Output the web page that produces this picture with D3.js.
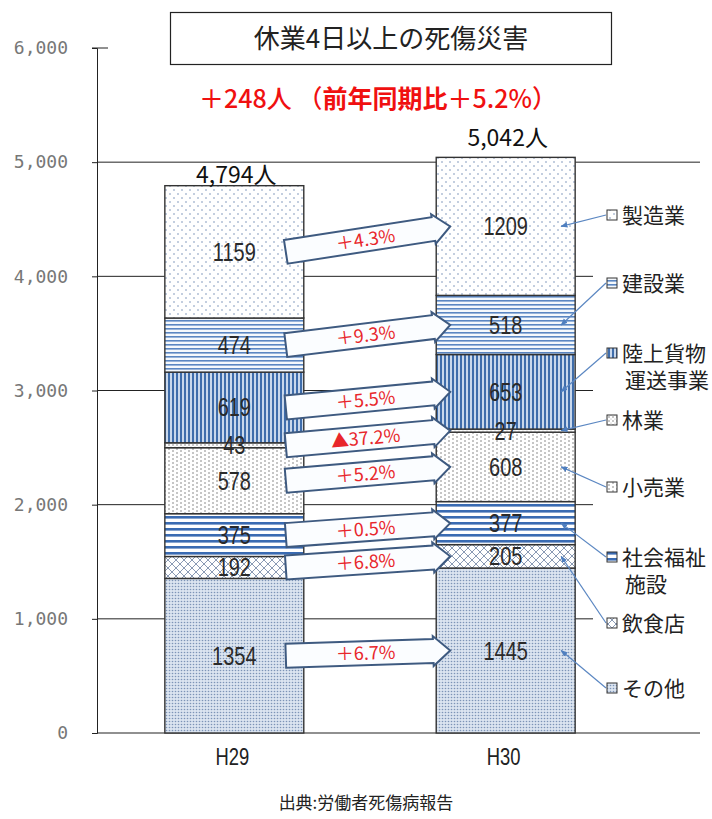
<!DOCTYPE html>
<html>
<head>
<meta charset="utf-8">
<script src="https://cdn.jsdelivr.net/npm/d3@7"></script>
<style>
  body { margin: 0; background: #fff; }
  svg { display: block; }
  .jp { font-family: "Noto Sans CJK JP", sans-serif; }
  .num { font-family: "Liberation Sans", Arial, sans-serif; }
</style>
</head>
<body>
<div id="chart"></div>
<script>
// data (bottom -> top)
const years = ["H29", "H30"];
const industries = ["その他", "飲食店", "社会福祉施設", "小売業", "林業", "陸上貨物運送事業", "建設業", "製造業"];
const valuesH29 = [1354, 192, 375, 578, 43, 619, 474, 1159];
const valuesH30 = [1445, 205, 377, 608, 27, 653, 518, 1209];
const yTicks = [0, 1000, 2000, 3000, 4000, 5000, 6000];

// legend text lines, top -> bottom
const legendOrder = ["製造業", "建設業", "陸上貨物運送事業", "林業", "小売業", "社会福祉施設", "飲食店", "その他"];
const legendLines = {
    "製造業": ["製造業"], "建設業": ["建設業"], "陸上貨物運送事業": ["陸上貨物", "運送事業"],
    "林業": ["林業"], "小売業": ["小売業"], "社会福祉施設": ["社会福祉", "施設"],
    "飲食店": ["飲食店"], "その他": ["その他"]
};
const legendY = [215, 283, 353, 420, 487, 557, 623, 688];

const W = 712, H = 819;
const svg = d3.select("#chart").append("svg").attr("width", W).attr("height", H);
const defs = svg.append("defs");

// fill patterns
function pattern(id, w, h, bg, draw) {
    const p = defs.append("pattern").attr("id", id)
        .attr("patternUnits", "userSpaceOnUse").attr("width", w).attr("height", h);
    p.append("rect").attr("width", w).attr("height", h).attr("fill", bg);
    draw(p);
}
pattern("p-seizo", 8, 8, "#ffffff", p => {
    p.append("circle").attr("cx", 2).attr("cy", 2).attr("r", 0.8).attr("fill", "#7890b8");
    p.append("circle").attr("cx", 6).attr("cy", 6).attr("r", 0.8).attr("fill", "#7890b8");
});
pattern("p-kensetsu", 4, 4, "#f4f8fc", p => {
    p.append("rect").attr("width", 4).attr("height", 1.6).attr("fill", "#5a86c2");
});
pattern("p-rikujo", 4, 4, "#c9d8ec", p => {
    p.append("rect").attr("width", 2).attr("height", 4).attr("fill", "#3f6dab");
});
pattern("p-ringyo", 4, 4, "#ffffff", p => {
    p.append("circle").attr("cx", 1).attr("cy", 1).attr("r", 0.7).attr("fill", "#666");
    p.append("circle").attr("cx", 3).attr("cy", 3).attr("r", 0.5).attr("fill", "#999");
});
pattern("p-kouri", 8, 4, "#ffffff", p => {
    p.append("circle").attr("cx", 1).attr("cy", 1).attr("r", 0.75).attr("fill", "#707070");
    p.append("circle").attr("cx", 5).attr("cy", 3).attr("r", 0.75).attr("fill", "#707070");
});
pattern("p-fukushi", 6, 6, "#ffffff", p => {
    p.append("rect").attr("width", 6).attr("height", 2.6).attr("fill", "#3a6bb2");
});
pattern("p-inshoku", 8, 8, "#ffffff", p => {
    p.append("path").attr("d", "M0,0 L8,8 M8,0 L0,8").attr("stroke", "#8a9ab4").attr("stroke-width", 1);
});
pattern("p-sonota", 3, 3, "#dbe4f0", p => {
    p.append("circle").attr("cx", 1.5).attr("cy", 1.5).attr("r", 0.8).attr("fill", "#7d94b7");
});
const fills = {
    "製造業": "url(#p-seizo)", "建設業": "url(#p-kensetsu)", "陸上貨物運送事業": "url(#p-rikujo)",
    "林業": "url(#p-ringyo)", "小売業": "url(#p-kouri)", "社会福祉施設": "url(#p-fukushi)",
    "飲食店": "url(#p-inshoku)", "その他": "url(#p-sonota)"
};

defs.append("marker").attr("id", "lead")
    .attr("viewBox", "0 0 10 10").attr("refX", 9).attr("refY", 5)
    .attr("markerWidth", 7).attr("markerHeight", 7).attr("markerUnits", "userSpaceOnUse")
    .attr("orient", "auto")
    .append("path").attr("d", "M0,1 L10,5 L0,9 z").attr("fill", "#4f7fbf");

// scales
const y = d3.scaleLinear().domain([0, 6000]).range([733, 48]);
const x = d3.scaleBand().domain(years).range([97, 643]).paddingInner(0.488).paddingOuter(0.25);
const bw = x.bandwidth();

// narrow text (squeezed horizontally)
function narrowText(sel, cx, cy, size, txt, fill) {
    return sel.append("text").attr("class", "num")
        .attr("transform", `translate(${cx},${cy}) scale(0.8,1)`)
        .attr("dy", "0.36em").attr("text-anchor", "middle")
        .attr("font-size", size).attr("fill", fill)
        .text(txt);
}

// stacked data
const table = industries.map((k, i) => ({ key: k, H29: valuesH29[i], H30: valuesH30[i] }));
const rows = years.map(yr => {
    const r = { year: yr };
    industries.forEach((k, i) => r[k] = yr === "H29" ? valuesH29[i] : valuesH30[i]);
    return r;
});
const series = d3.stack().keys(industries)(rows);

// gridlines
const grid = svg.append("g");
grid.selectAll("line").data(yTicks.slice(1, -1)).join("line")
    .attr("x1", 97).attr("x2", 700)
    .attr("y1", d => y(d)).attr("y2", d => y(d))
    .attr("stroke", "#222").attr("stroke-width", 1);
grid.append("line").attr("x1", 92).attr("x2", 108).attr("y1", y(6000)).attr("y2", y(6000))
    .attr("stroke", "#222");
grid.append("line").attr("x1", 97).attr("x2", 700).attr("y1", y(0)).attr("y2", y(0))
    .attr("stroke", "#222").attr("stroke-width", 1.2);

// y axis
const yAxis = svg.append("g").attr("transform", "translate(97,0)")
    .call(d3.axisLeft(y).tickValues(yTicks).tickFormat(d3.format(",")).tickSize(5).tickPadding(24));
yAxis.select(".domain").attr("stroke", "#222");
yAxis.selectAll(".tick line").attr("stroke", "#222");
yAxis.selectAll(".tick text").attr("font-family", "DejaVu Sans Mono, monospace")
    .attr("font-size", 18).attr("fill", "#777");

// bars
const barG = svg.append("g");
series.forEach(s => {
    barG.selectAll(null).data(s).join("rect")
        .attr("x", d => x(d.data.year))
        .attr("y", d => y(d[1]))
        .attr("width", bw)
        .attr("height", d => y(d[0]) - y(d[1]))
        .attr("fill", fills[s.key])
        .attr("stroke", "#333").attr("stroke-width", 1.4);
});

// segment labels
series.forEach(s => {
    s.forEach(d => {
        narrowText(barG, x(d.data.year) + bw / 2, y((d[0] + d[1]) / 2), 25, d[1] - d[0], "#2a2a2a");
    });
});

// change arrows
const pctFmt = d3.format(".1f");
const arrowG = svg.append("g");
table.forEach((d, i) => {
    const s = series[i];
    const x1 = x("H29") + bw - 18, y1 = y((s[0][0] + s[0][1]) / 2);
    const x2 = x("H30") + 14, y2 = y((s[1][0] + s[1][1]) / 2);
    const len = Math.hypot(x2 - x1, y2 - y1);
    const ang = Math.atan2(y2 - y1, x2 - x1) * 180 / Math.PI;
    const hb = 12, hh = 15, hl = 17;
    const g = arrowG.append("g").attr("transform", `translate(${x1},${y1}) rotate(${ang})`);
    g.append("path")
        .attr("d", `M0,${-hb} L${len - hl},${-hb} L${len - hl},${-hh} L${len},0 L${len - hl},${hh} L${len - hl},${hb} L0,${hb} Z`)
        .attr("fill", "#fbfdff").attr("stroke", "#3e5a80").attr("stroke-width", 2)
        .attr("stroke-linejoin", "miter");
    const ch = (d.H30 - d.H29) / d.H29 * 100;
    const label = (ch < 0 ? "▲" : "＋") + pctFmt(Math.abs(ch)) + "%";
    g.append("text").attr("class", "jp")
        .attr("x", (len - hl) / 2 + 6).attr("y", 0).attr("dy", "0.36em")
        .attr("text-anchor", "middle").attr("font-size", 18).attr("fill", "#e8262b")
        .text(label);
});

// totals
const totals = [d3.sum(valuesH29), d3.sum(valuesH30)];
const totalDy = [-3, -11];
svg.append("g").selectAll("text").data(years).join("text")
    .attr("class", "jp")
    .attr("x", d => x(d) + bw / 2 + 2)
    .attr("y", (d, i) => y(totals[i]) + totalDy[i])
    .attr("text-anchor", "middle").attr("font-size", 23).attr("fill", "#111")
    .text((d, i) => d3.format(",")(totals[i]) + "人");

// category labels
years.forEach(d => narrowText(svg, x(d) + bw / 2 - 2, 757, 23, d, "#222"));

// legend
svg.append("rect").attr("x", 593).attr("y", 192).attr("width", 119).attr("height", 520).attr("fill", "#fff");
const legG = svg.append("g");
legendOrder.forEach((k, i) => {
    const ly = legendY[i];
    const s = series[industries.indexOf(k)];
    legG.append("line")
        .attr("x1", 606).attr("y1", ly)
        .attr("x2", x("H30") + bw - 14).attr("y2", y((s[1][0] + s[1][1]) / 2))
        .attr("stroke", "#5b87c2").attr("stroke-width", 1.2)
        .attr("marker-end", "url(#lead)");
    legG.append("rect").attr("x", 607).attr("y", ly - 5).attr("width", 10).attr("height", 10)
        .attr("fill", fills[k]).attr("stroke", "#333").attr("stroke-width", 1);
    legG.append("text").attr("class", "jp")
        .attr("x", 622).attr("y", ly)
        .attr("font-size", 21).attr("fill", "#222")
        .selectAll("tspan").data(legendLines[k]).join("tspan")
        .attr("x", (d, j) => j === 0 ? 622 : 625)
        .attr("dy", (d, j) => j === 0 ? "0.36em" : "1.3em")
        .text(d => d);
});

// title
svg.append("rect").attr("x", 170.5).attr("y", 12.5).attr("width", 441).attr("height", 52)
    .attr("fill", "#fff").attr("stroke", "#222").attr("stroke-width", 1.2);
svg.append("text").attr("class", "jp")
    .attr("x", 391).attr("y", 39).attr("dy", "0.36em")
    .attr("text-anchor", "middle").attr("font-size", 26).attr("fill", "#222")
    .text("休業4日以上の死傷災害");

const diff = totals[1] - totals[0];
const rate = (totals[1] / totals[0] - 1) * 100;
const sub = svg.append("text").attr("class", "jp")
    .attr("x", 378).attr("y", 99).attr("dy", "0.36em")
    .attr("text-anchor", "middle").attr("font-size", 25).attr("font-weight", 500).attr("fill", "#f01010");
sub.append("tspan").text("＋" + diff + "人 （");
sub.append("tspan").attr("font-weight", 700).text("前年同期比");
sub.append("tspan").text("＋" + pctFmt(rate) + "%）");

// source
svg.append("text").attr("class", "jp")
    .attr("x", 366).attr("y", 803).attr("dy", "0.36em")
    .attr("text-anchor", "middle").attr("font-size", 17).attr("fill", "#222")
    .text("出典:労働者死傷病報告");
</script>
</body>
</html>
